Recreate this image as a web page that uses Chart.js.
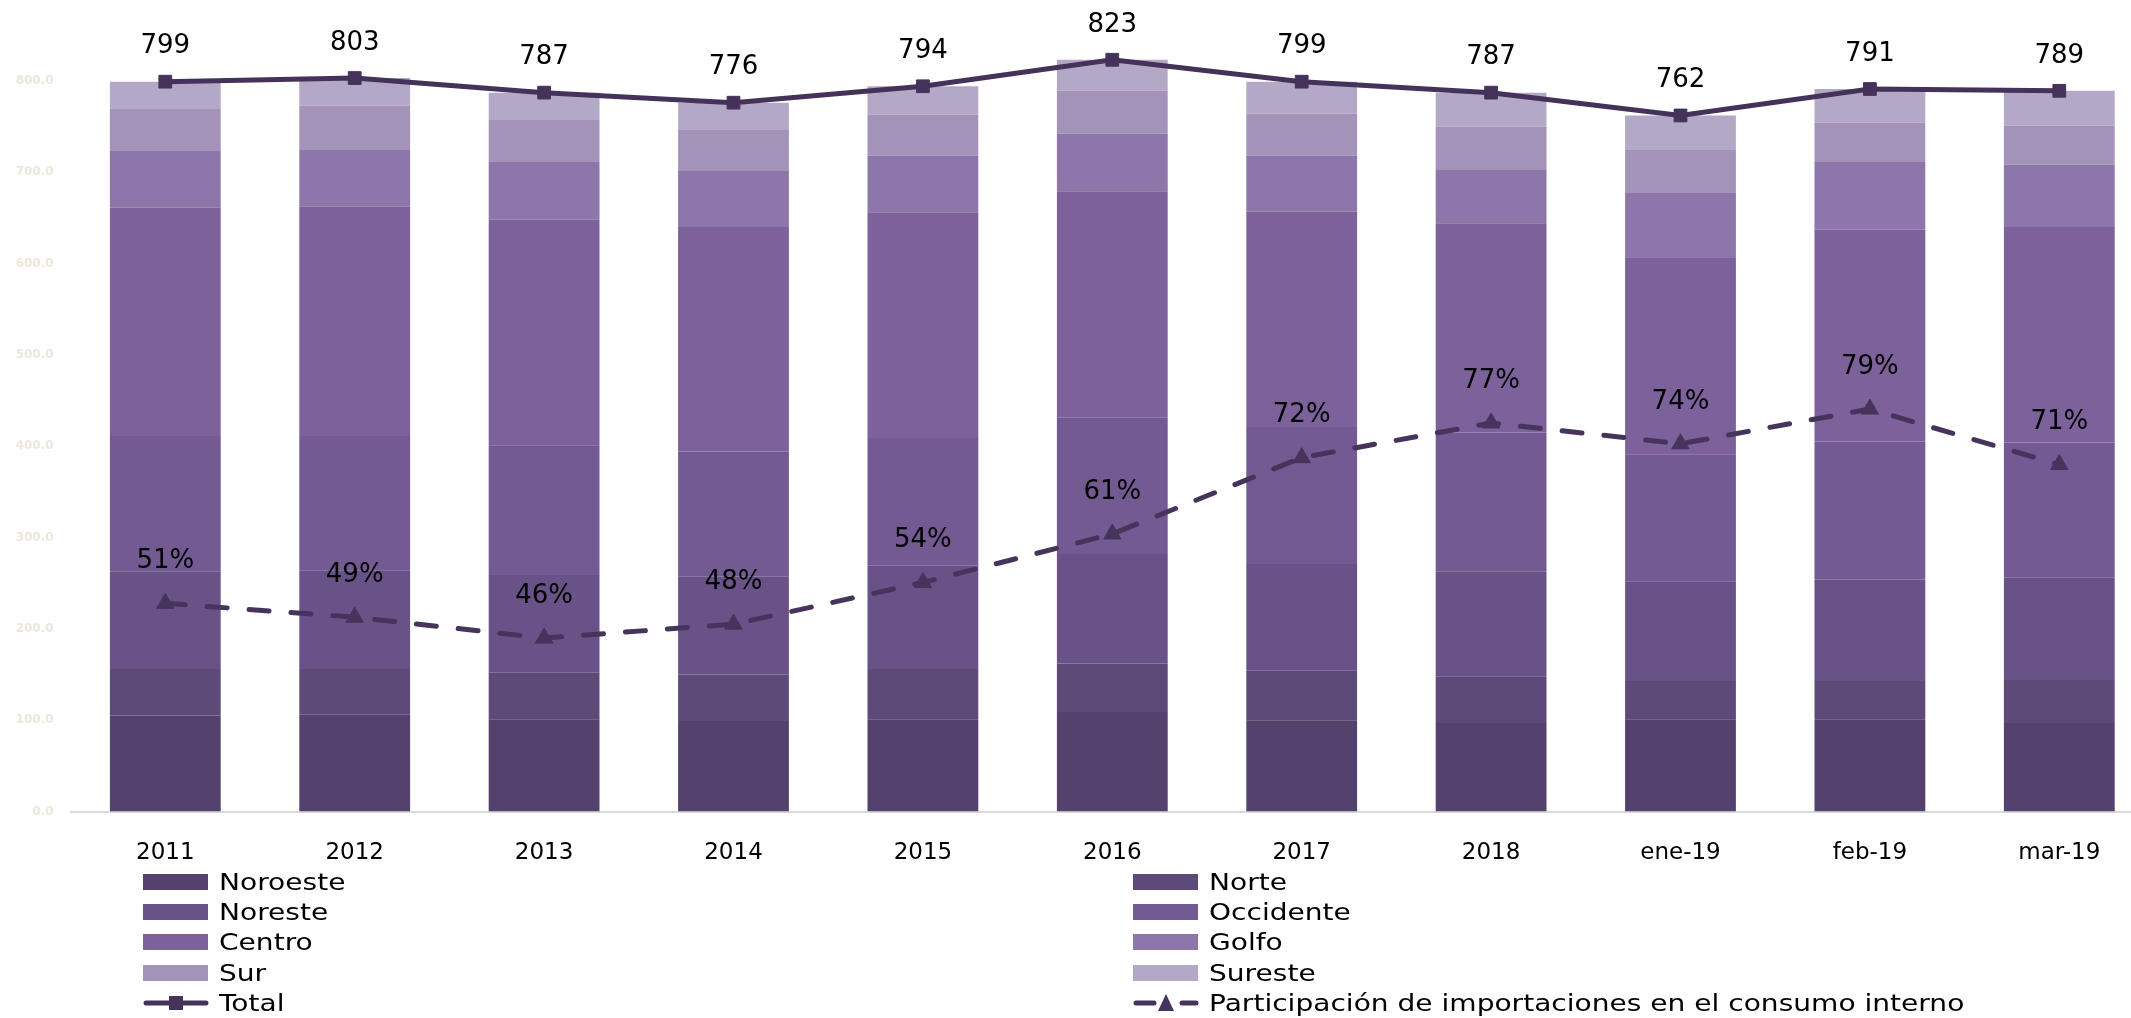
<!DOCTYPE html>
<html>
<head>
<meta charset="utf-8">
<script src="https://cdn.jsdelivr.net/npm/chart.js@4.4.1/dist/chart.umd.min.js"></script>
<style>
  html, body { margin: 0; padding: 0; background: #ffffff; }
  #wrap { position: relative; width: 2131px; height: 1018px; overflow: hidden; background: #ffffff; }
  #c { position: absolute; left: 0; top: 0; }
  #legend { position: absolute; left: 0; top: 0; width: 2131px; height: 1018px; pointer-events: none;
            font-family: "DejaVu Sans", sans-serif; font-size: 23px; color: #000; }
  .li { position: absolute; height: 30px; display: flex; align-items: center; white-space: nowrap; }
  .sw { position: absolute; left: 0; top: 7px; width: 65px; height: 16px; }
  .ln { position: absolute; left: 0; top: 0; }
  .tx { position: absolute; left: 76px; top: 0; line-height: 30px; transform: scaleX(1.22); transform-origin: left center; }
</style>
</head>
<body>
<div id="wrap">
  <canvas id="c" width="2165" height="1018"></canvas>
  <div id="legend"></div>
</div>
<script>
const categories = ['2011','2012','2013','2014','2015','2016','2017','2018','ene-19','feb-19','mar-19'];
const noroeste  = [105,106,101, 99,101,109,100, 97,101,101, 97];
const norte     = [ 51, 50, 51, 51, 55, 53, 54, 51, 42, 42, 47];
const noreste   = [107,108,107,107,113,120,117,115,109,111,112];
const occidente = [148,147,142,137,140,149,150,152,139,151,148];
const centro    = [250,251,247,246,247,248,236,229,215,232,236];
const golfo     = [ 62, 63, 63, 62, 62, 63, 61, 59, 71, 74, 68];
const sur       = [ 47, 48, 46, 45, 45, 47, 46, 47, 48, 43, 43];
const sureste   = [ 29, 30, 30, 29, 31, 34, 35, 37, 37, 37, 38];
const total     = [799,803,787,776,794,823,799,787,762,791,789];
const participacion = [51,49,46,48,54,61,72,77,74,79,71];

const FONT = '"DejaVu Sans", sans-serif';
const LINE_COLOR = '#45325a';

function barDs(label, data, color) {
  return { type: 'bar', label, data, backgroundColor: color, borderWidth: 0,
           stack: 'regiones', yAxisID: 'y', order: 3,
           barPercentage: 0.585, categoryPercentage: 1.0 };
}

const valueLabels = {
  id: 'valueLabels',
  afterDatasetsDraw(chart) {
    const ctx = chart.ctx;
    chart.data.datasets.forEach((ds, i) => {
      if (!ds.valueLabel) return;
      const meta = chart.getDatasetMeta(i);
      ctx.save();
      ctx.font = '26px ' + FONT;
      ctx.fillStyle = '#000000';
      ctx.textAlign = 'center';
      ctx.textBaseline = 'middle';
      meta.data.forEach((pt, j) => {
        ctx.fillText(ds.valueLabel(ds.data[j]), pt.x, pt.y - ds.valueOffset);
      });
      ctx.restore();
    });
  }
};

const htmlLegend = {
  id: 'htmlLegend',
  afterUpdate(chart) {
    const box = document.getElementById('legend');
    box.innerHTML = '';
    const colX = [143, 1133];
    const rowY = [867, 897, 927, 958, 988];
    chart.data.datasets.forEach((ds, i) => {
      const item = document.createElement('div');
      item.className = 'li';
      item.style.left = colX[i % 2] + 'px';
      item.style.top = rowY[Math.floor(i / 2)] + 'px';
      if (ds.type === 'bar') {
        const sw = document.createElement('div');
        sw.className = 'sw';
        sw.style.background = ds.backgroundColor;
        item.appendChild(sw);
      } else {
        const ns = 'http://www.w3.org/2000/svg';
        const svg = document.createElementNS(ns, 'svg');
        svg.setAttribute('class', 'ln');
        svg.setAttribute('width', '66');
        svg.setAttribute('height', '30');
        const line = document.createElementNS(ns, 'line');
        line.setAttribute('x1', '3'); line.setAttribute('x2', '63');
        line.setAttribute('y1', '15'); line.setAttribute('y2', '15');
        line.setAttribute('stroke', ds.borderColor);
        line.setAttribute('stroke-width', '5');
        line.setAttribute('stroke-linecap', 'round');
        if (ds.borderDash) line.setAttribute('stroke-dasharray', '18 28');
        svg.appendChild(line);
        if (ds.pointStyle === 'rect') {
          const r = document.createElementNS(ns, 'rect');
          r.setAttribute('x', '26'); r.setAttribute('y', '8');
          r.setAttribute('width', '14'); r.setAttribute('height', '14');
          r.setAttribute('fill', ds.borderColor);
          svg.appendChild(r);
        } else {
          const p = document.createElementNS(ns, 'polygon');
          p.setAttribute('points', '33,6 41,23 25,23');
          p.setAttribute('fill', ds.borderColor);
          svg.appendChild(p);
        }
        item.appendChild(svg);
      }
      const tx = document.createElement('span');
      tx.className = 'tx';
      tx.textContent = ds.label;
      item.appendChild(tx);
      box.appendChild(item);
    });
  }
};

new Chart(document.getElementById('c'), {
  data: {
    labels: categories,
    datasets: [
      barDs('Noroeste', noroeste, '#54416d'),
      barDs('Norte', norte, '#5e4a79'),
      barDs('Noreste', noreste, '#695288'),
      barDs('Occidente', occidente, '#735a92'),
      barDs('Centro', centro, '#7d619b'),
      barDs('Golfo', golfo, '#8c76aa'),
      barDs('Sur', sur, '#a393b9'),
      barDs('Sureste', sureste, '#b3a8c6'),
      { type: 'line', label: 'Total', data: total, yAxisID: 'y', stack: 'total', order: 1,
        borderColor: LINE_COLOR, backgroundColor: LINE_COLOR, borderWidth: 5,
        pointStyle: 'rect', pointRadius: 9, pointBorderWidth: 1,
        pointBackgroundColor: LINE_COLOR, pointBorderColor: LINE_COLOR, tension: 0,
        valueLabel: v => String(v), valueOffset: 35 },
      { type: 'line', label: 'Participación de importaciones en el consumo interno',
        data: participacion, yAxisID: 'y1', order: 0,
        borderColor: '#46345c', backgroundColor: '#46345c', borderWidth: 5,
        borderDash: [20, 22], borderCapStyle: 'round',
        pointStyle: 'triangle', pointRadius: 10, pointBorderWidth: 1,
        pointBackgroundColor: '#46345c', pointBorderColor: '#46345c', tension: 0,
        valueLabel: v => v + '%', valueOffset: 42 }
    ]
  },
  options: {
    responsive: false,
    animation: false,
    devicePixelRatio: 1,
    layout: { padding: { top: 35.1, right: 6.6, bottom: 126.5, left: 0 } },
    plugins: {
      legend: { display: false },
      tooltip: { enabled: false }
    },
    scales: {
      x: {
        stacked: true,
        offset: true,
        grid: { display: false, drawTicks: false },
        border: { display: true, color: '#d9d9d9', width: 2 },
        ticks: { color: '#000000', font: { family: FONT, size: 23 }, padding: 28, maxRotation: 0, autoSkip: false },
        afterFit(scale) { scale.height = 80; }
      },
      y: {
        stacked: true,
        min: 0, max: 850,
        grid: { display: false, drawTicks: false },
        border: { display: false },
        ticks: { stepSize: 100, includeBounds: false, padding: 17,
                 color: '#ece6db', font: { family: FONT, size: 12, weight: 'bold' },
                 callback: v => Number(v).toFixed(1) },
        afterFit(scale) { scale.width = 70.6; }
      },
      y1: {
        position: 'right',
        display: false,
        min: 21.0, max: 132.9,
        grid: { display: false }
      }
    }
  },
  plugins: [valueLabels, htmlLegend]
});
</script>
</body>
</html>
